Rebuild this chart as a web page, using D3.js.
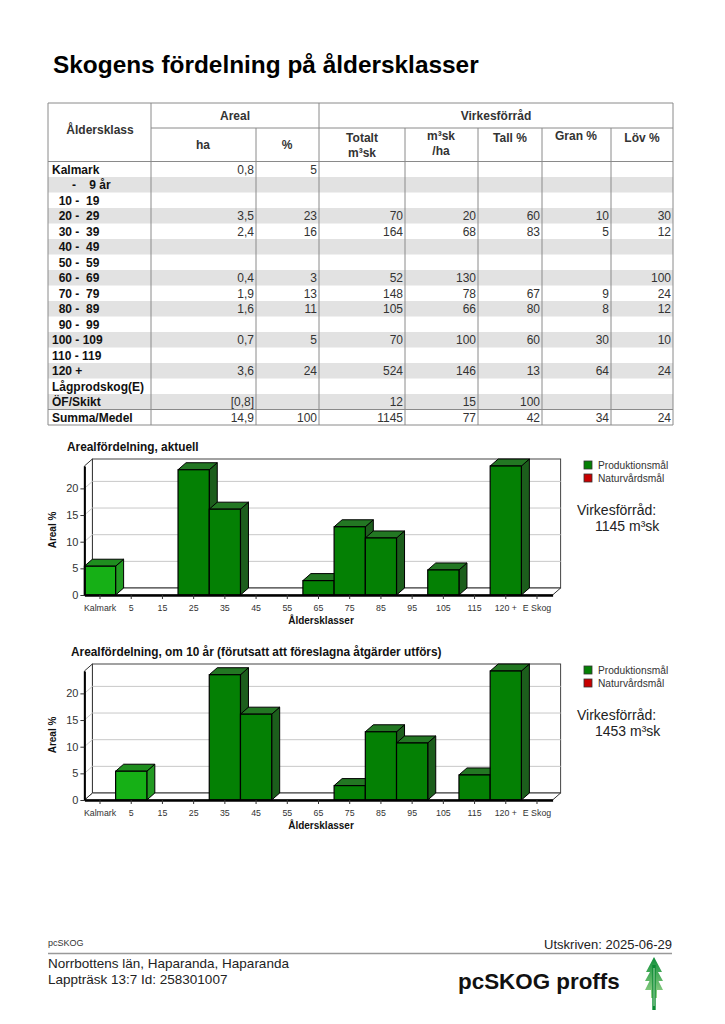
<!DOCTYPE html>
<html>
<head>
<meta charset="utf-8">
<script src="https://cdnjs.cloudflare.com/ajax/libs/d3/7.8.5/d3.min.js"></script>
<style>
  body { margin: 0; background: #fff; }
  svg { display: block; font-family: "Liberation Sans", Arial, sans-serif; }
  .pre { white-space: pre; }
</style>
</head>
<body>
<svg id="page" width="725" height="1024"></svg>
<script>
// table data
var ageClasses = ["Kalmark", "      -    9 år", "  10 -  19", "  20 -  29", "  30 -  39", "  40 -  49", "  50 -  59",
    "  60 -  69", "  70 -  79", "  80 -  89", "  90 -  99", "100 - 109", "110 - 119", "120 +",
    "Lågprodskog(E)", "ÖF/Skikt", "Summa/Medel"];
var arealHa    = ["0,8", "", "", "3,5", "2,4", "", "", "0,4", "1,9", "1,6", "", "0,7", "", "3,6", "", "[0,8]", "14,9"];
var arealPct   = ["5", "", "", "23", "16", "", "", "3", "13", "11", "", "5", "", "24", "", "", "100"];
var totaltM3sk = ["", "", "", "70", "164", "", "", "52", "148", "105", "", "70", "", "524", "", "12", "1145"];
var m3skPerHa  = ["", "", "", "20", "68", "", "", "130", "78", "66", "", "100", "", "146", "", "15", "77"];
var tallPct    = ["", "", "", "60", "83", "", "", "", "67", "80", "", "60", "", "13", "", "100", "42"];
var granPct    = ["", "", "", "10", "5", "", "", "", "9", "8", "", "30", "", "64", "", "", "34"];
var lovPct     = ["", "", "", "30", "12", "", "", "100", "24", "12", "", "10", "", "24", "", "", "24"];

// chart data
var chartCategories = ["Kalmark", "5", "15", "25", "35", "45", "55", "65", "75", "85", "95", "105", "115", "120 +", "E Skog"];
var arealNow  = [5.4, 0, 0, 23.5, 16.1, 0, 0, 2.7, 12.8, 10.7, 0, 4.7, 0, 24.2, 0];
var arealIn10 = [0, 5.4, 0, 0, 23.5, 16.1, 0, 0, 2.7, 12.8, 10.7, 0, 4.7, 24.2, 0];
var yTicks = [0, 5, 10, 15, 20];
var legendItems = ["Produktionsmål", "Naturvårdsmål"];

var svg = d3.select("#page");

svg.append("text")
    .attr("x", 53).attr("y", 73)
    .attr("font-size", 24.4).attr("font-weight", "bold")
    .text("Skogens fördelning på åldersklasser");

// ---------- table ----------
var colX = [48, 151, 256, 319, 405, 478, 542, 611, 673];
var tTop = 103, hMid = 128, hBot = 161.5, rowH = 15.5;
var tBot = hBot + rowH * ageClasses.length;
var table = svg.append("g");

ageClasses.forEach(function (d, i) {
    if (i % 2 == 1 && i < ageClasses.length - 1) {
        table.append("rect")
            .attr("x", colX[0]).attr("y", hBot + i * rowH)
            .attr("width", colX[8] - colX[0]).attr("height", rowH)
            .attr("fill", "#e2e2e2");
    }
});

var lineColor = "#8a8a8a";
function hline(x1, x2, y) {
    table.append("line").attr("x1", x1).attr("x2", x2).attr("y1", y).attr("y2", y)
        .attr("stroke", lineColor).attr("stroke-width", 1);
}
function vline(x, y1, y2) {
    table.append("line").attr("x1", x).attr("x2", x).attr("y1", y1).attr("y2", y2)
        .attr("stroke", lineColor).attr("stroke-width", 1);
}
hline(colX[0], colX[8], tTop);
hline(colX[1], colX[8], hMid);
hline(colX[0], colX[8], hBot);
hline(colX[0], colX[8], hBot + rowH * (ageClasses.length - 1));
hline(colX[0], colX[8], tBot);
colX.forEach(function (x, i) {
    var top = (i == 0 || i == 1 || i == 3 || i == 8) ? tTop : hMid;
    vline(x, top, tBot);
});

function headText(x, y, t) {
    table.append("text").attr("x", x).attr("y", y)
        .attr("text-anchor", "middle").attr("font-size", 12).attr("font-weight", "bold")
        .attr("fill", "#333").text(t);
}
headText(100, 134, "Åldersklass");
headText(235, 120, "Areal");
headText(496, 120, "Virkesförråd");
headText(203, 149, "ha");
headText(287, 149, "%");
headText(362, 142, "Totalt");
headText(362, 157, "m³sk");
headText(441, 140, "m³sk");
headText(441, 155, "/ha");
headText(510, 142, "Tall %");
headText(576, 140, "Gran %");
headText(642, 142, "Löv %");

var valueCols = [arealHa, arealPct, totaltM3sk, m3skPerHa, tallPct, granPct, lovPct];
ageClasses.forEach(function (label, i) {
    var base = hBot + i * rowH + 12;
    table.append("text").attr("class", "pre")
        .attr("x", 52).attr("y", base)
        .attr("font-size", 12).attr("font-weight", "bold").attr("fill", "#111")
        .text(label);
    valueCols.forEach(function (col, c) {
        if (col[i] === "") return;
        table.append("text")
            .attr("x", colX[c + 2] - 2).attr("y", base)
            .attr("text-anchor", "end").attr("font-size", 12).attr("fill", "#333")
            .text(col[i]);
    });
});

// ---------- charts ----------
var dx = 8, dy = 7;
var green = { front: "#048004", top: "#237723", side: "#1c5e1c" };
var lightGreen = { front: "#16b016", top: "#1f8e1f", side: "#229a22" };

function drawChart(title, titleX, values, lightIndex, stock, baseY) {
    var g = svg.append("g");
    var x = d3.scaleBand().domain(chartCategories).range([84.4, 552.6]).paddingInner(0).paddingOuter(0);
    var yMax = d3.max(values);
    var y = d3.scaleLinear().domain([0, yMax]).range([baseY, baseY - 129]);
    var x0 = x.range()[0], x1 = x.range()[1];
    var y0 = y(0), yTop = y(yMax);

    g.append("text").attr("x", titleX).attr("y", baseY - 144)
        .attr("font-size", 11.85).attr("font-weight", "bold").attr("fill", "#111").text(title);

    // back wall, floor and left wall
    g.append("rect").attr("x", x0 + dx).attr("y", yTop - dy)
        .attr("width", x1 - x0).attr("height", y0 - yTop)
        .attr("fill", "#fff").attr("stroke", "#444").attr("stroke-width", 1);
    g.append("polygon")
        .attr("points", [[x0, y0], [x0 + dx, y0 - dy], [x1 + dx, y0 - dy], [x1, y0]].join(" "))
        .attr("fill", "#fff").attr("stroke", "#333").attr("stroke-width", 1);
    g.append("polygon")
        .attr("points", [[x0, y0], [x0, yTop], [x0 + dx, yTop - dy], [x0 + dx, y0 - dy]].join(" "))
        .attr("fill", "#fff").attr("stroke", "#333").attr("stroke-width", 1);

    yTicks.filter(function (t) { return t > 0; }).forEach(function (t) {
        g.append("line").attr("x1", x0 + dx).attr("x2", x1 + dx)
            .attr("y1", y(t) - dy).attr("y2", y(t) - dy)
            .attr("stroke", "#c8c8c8").attr("stroke-width", 1);
        g.append("line").attr("x1", x0).attr("x2", x0 + dx)
            .attr("y1", y(t)).attr("y2", y(t) - dy)
            .attr("stroke", "#c8c8c8").attr("stroke-width", 1);
    });

    // bars, left to right so each front covers the previous side
    values.forEach(function (v, i) {
        if (v <= 0) return;
        var c = (i == lightIndex) ? lightGreen : green;
        var bx = x(chartCategories[i]), bw = x.bandwidth(), by = y(v);
        g.append("polygon")
            .attr("points", [[bx + bw, by], [bx + bw + dx, by - dy], [bx + bw + dx, y0 - dy], [bx + bw, y0]].join(" "))
            .attr("fill", c.side).attr("stroke", "#000").attr("stroke-width", 1);
        g.append("polygon")
            .attr("points", [[bx, by], [bx + dx, by - dy], [bx + bw + dx, by - dy], [bx + bw, by]].join(" "))
            .attr("fill", c.top).attr("stroke", "#000").attr("stroke-width", 1);
        g.append("rect").attr("x", bx).attr("y", by).attr("width", bw).attr("height", y0 - by)
            .attr("fill", c.front).attr("stroke", "#000").attr("stroke-width", 1.2);
    });

    // axes
    var ya = g.append("g").attr("transform", "translate(" + x0 + ",0)")
        .call(d3.axisLeft(y).tickValues(yTicks).tickSize(4).tickSizeOuter(0).tickPadding(2));
    ya.select(".domain").attr("stroke", "#000").attr("stroke-width", 2);
    ya.selectAll(".tick line").attr("stroke", "#333");
    ya.selectAll(".tick text").attr("font-size", 11).attr("fill", "#333")
        .attr("font-family", "Liberation Sans, Arial, sans-serif");

    var xa = g.append("g").attr("transform", "translate(0," + y0 + ")")
        .call(d3.axisBottom(x).tickSize(4).tickSizeOuter(0).tickPadding(6));
    xa.select(".domain").attr("stroke", "#000").attr("stroke-width", 2.5);
    xa.selectAll(".tick line").attr("stroke", "#333");
    xa.selectAll(".tick text").attr("font-size", 8.8).attr("fill", "#333")
        .attr("font-family", "Liberation Sans, Arial, sans-serif");

    g.append("text").attr("x", 321).attr("y", baseY + 29)
        .attr("text-anchor", "middle").attr("font-size", 10).attr("font-weight", "bold")
        .attr("fill", "#111").text("Åldersklasser");
    g.append("text")
        .attr("transform", "translate(56," + (baseY - 65) + ") rotate(-90)")
        .attr("text-anchor", "middle").attr("font-size", 10).attr("font-weight", "bold")
        .attr("fill", "#111").text("Areal %");

    // legend
    var legColors = [green.front, "#c80000"];
    legendItems.forEach(function (t, i) {
        var ly = baseY - 134 + i * 13;
        g.append("rect").attr("x", 584).attr("y", ly).attr("width", 8).attr("height", 8)
            .attr("fill", legColors[i]).attr("stroke", "#333").attr("stroke-width", 0.8);
        g.append("text").attr("x", 598).attr("y", ly + 8)
            .attr("font-size", 10.2).attr("fill", "#333").text(t);
    });
    g.append("text").attr("x", 577).attr("y", baseY - 80)
        .attr("font-size", 14).attr("fill", "#222").text("Virkesförråd:");
    g.append("text").attr("x", 595).attr("y", baseY - 64)
        .attr("font-size", 14).attr("fill", "#222").text(stock + " m³sk");
}

drawChart("Arealfördelning, aktuell", 67, arealNow, 0, 1145, 595);
drawChart("Arealfördelning, om 10 år (förutsatt att föreslagna åtgärder utförs)", 71, arealIn10, 1, 1453, 800);

// ---------- footer ----------
svg.append("text").attr("x", 48).attr("y", 946).attr("font-size", 9).attr("fill", "#333").text("pcSKOG");
svg.append("text").attr("x", 672).attr("y", 949).attr("text-anchor", "end")
    .attr("font-size", 13).attr("fill", "#222").text("Utskriven: 2025-06-29");
svg.append("line").attr("x1", 48).attr("x2", 672).attr("y1", 953.5).attr("y2", 953.5)
    .attr("stroke", "#999").attr("stroke-width", 1.5);
svg.append("text").attr("x", 48).attr("y", 968).attr("font-size", 13.5).attr("fill", "#222")
    .text("Norrbottens län, Haparanda, Haparanda");
svg.append("text").attr("x", 48).attr("y", 984).attr("font-size", 13.5).attr("fill", "#222")
    .text("Lappträsk 13:7 Id: 258301007");
svg.append("text").attr("x", 458).attr("y", 989).attr("font-size", 22.4).attr("font-weight", "bold")
    .attr("fill", "#111").text("pcSKOG proffs");

// logo tree
var logo = svg.append("g");
var grad = svg.append("defs").append("linearGradient").attr("id", "treeGrad")
    .attr("x1", 0).attr("y1", 0).attr("x2", 0).attr("y2", 1);
grad.append("stop").attr("offset", "0%").attr("stop-color", "#0f8f3a");
grad.append("stop").attr("offset", "100%").attr("stop-color", "#9ad48a");
logo.append("path")
    .attr("d", "M654,957 L662,972 L658,972 L663,981 L658.5,981 L663,990 L657,990 L657,998 L651,998 L651,990 L645,990 L649.5,981 L645,981 L650,972 L646,972 Z")
    .attr("fill", "url(#treeGrad)");
logo.append("rect").attr("x", 652.3).attr("y", 965).attr("width", 3.4).attr("height", 45).attr("fill", "#0a8a33");
logo.append("line").attr("x1", 654).attr("x2", 654).attr("y1", 968).attr("y2", 1006)
    .attr("stroke", "#d8f0d0").attr("stroke-width", 0.8);
</script>
</body>
</html>
